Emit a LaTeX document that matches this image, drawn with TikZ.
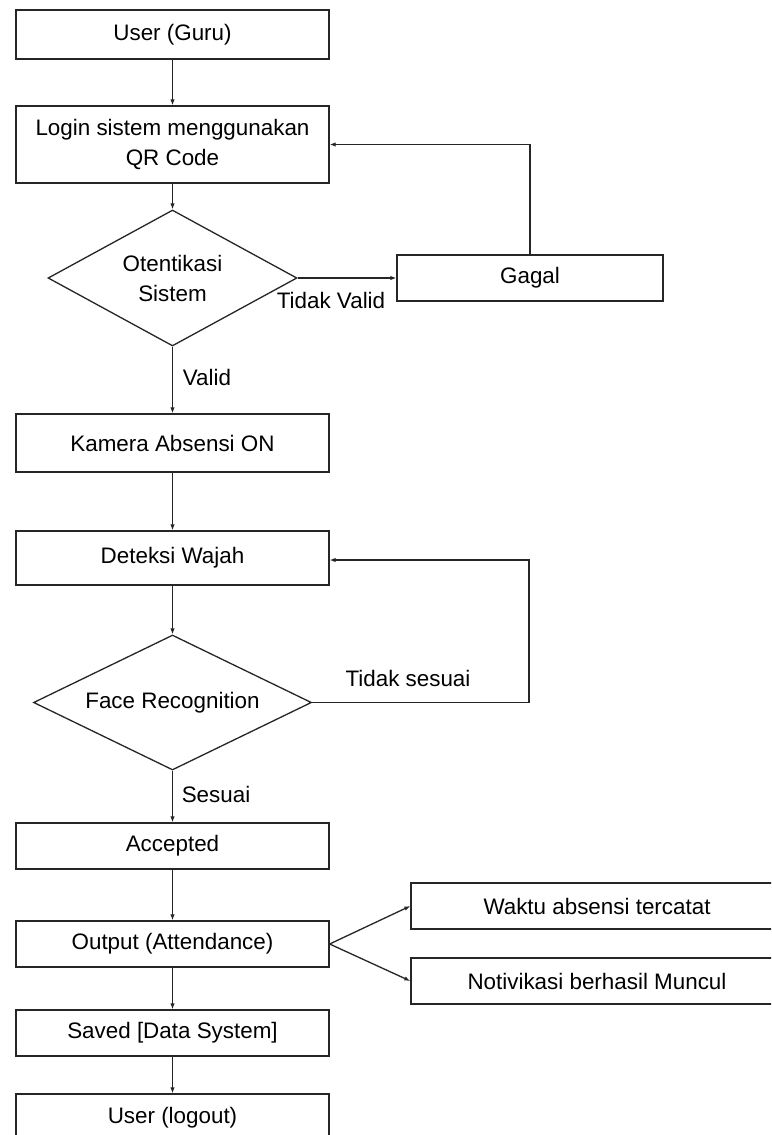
\documentclass[tikz,border=0pt]{standalone}
\usepackage{fontspec}
\setmainfont{Liberation Sans}
\usetikzlibrary{shapes.geometric,arrows.meta}
\tikzset{
  box/.style={draw=black!85, line width=1.3pt, rectangle, inner sep=0pt, minimum width=313pt, font=\fontsize{22.4}{30}\selectfont, align=center},
  dec/.style={draw=black!85, line width=1.3pt, diamond, inner sep=0pt, font=\fontsize{22.4}{30}\selectfont, align=center},
  lbl/.style={inner sep=0pt, font=\fontsize{22.4}{30}\selectfont},
  arr/.style={draw=black!85, line width=1.3pt, -{Latex[length=6pt,width=4.5pt]}},
  ln/.style={draw=black!85, line width=1.3pt}
}
\begin{document}
\begin{tikzpicture}[x=1pt,y=-1pt]
\useasboundingbox (0,0) rectangle (771,1135);
\clip (0,0) rectangle (771,1135);
\fill[white] (0,0) rectangle (771,1135);

\node[box, minimum height=49pt] (u1) at (172.5,34.5) {User (Guru)};
\node[box, minimum height=77pt] (login) at (172.5,144.5) {Login sistem menggunakan\\QR Code};
\node[dec, shape aspect=1.83, minimum width=249pt, minimum height=136pt] (d1) at (172.5,278) {Otentikasi\\Sistem};
\node[box, minimum width=266pt, minimum height=46pt] (gagal) at (530,278) {Gagal};
\node[box, minimum height=58pt] (kamera) at (172.5,443) {Kamera Absensi ON};
\node[box, minimum height=54pt] (deteksi) at (172.5,558) {Deteksi Wajah};
\node[dec, shape aspect=2.06, minimum width=278pt, minimum height=135pt] (d2) at (172.5,702.5) {Face Recognition};
\node[box, minimum height=46pt] (acc) at (172.5,846) {Accepted};
\node[box, minimum height=46pt] (out) at (172.5,944) {Output (Attendance)};
\node[box, minimum width=372pt, minimum height=46pt] (waktu) at (597,906) {Waktu absensi tercatat};
\node[box, minimum width=372pt, minimum height=46pt] (notif) at (597,981) {Notivikasi berhasil Muncul};
\node[box, minimum height=46pt] (saved) at (172.5,1033) {Saved [Data System]};
\node[box, minimum height=48pt] (logout) at (172.5,1118) {User (logout)};

\coordinate (r2) at (529,702.5);

\draw[arr] (u1) -- (login);
\draw[arr] (login) -- (d1);
\draw[arr] (d1.east) -- (gagal.west);
\draw[arr] (gagal.north) |- (login.east);
\draw[arr] (d1.south) -- (kamera.north);
\draw[arr] (kamera) -- (deteksi);
\draw[arr] (deteksi) -- (d2);
\draw[ln] (d2.east) -- (r2);
\draw[arr] (r2) |- ([yshift=-2pt]deteksi.east);
\draw[arr] (d2.south) -- (acc.north);
\draw[arr] (acc) -- (out);
\draw[arr] (out.east) -- (waktu.west);
\draw[arr] (out.east) -- (notif.west);
\draw[arr] (out) -- (saved);
\draw[arr] (saved) -- (logout);

\node[lbl] (ltv) at (331,300) {Tidak Valid};
\node[lbl] (lv) at (207,377) {Valid};
\node[lbl] (lts) at (408,678) {Tidak sesuai};
\node[lbl] (ls) at (216,794) {Sesuai};
\end{tikzpicture}
\end{document}
